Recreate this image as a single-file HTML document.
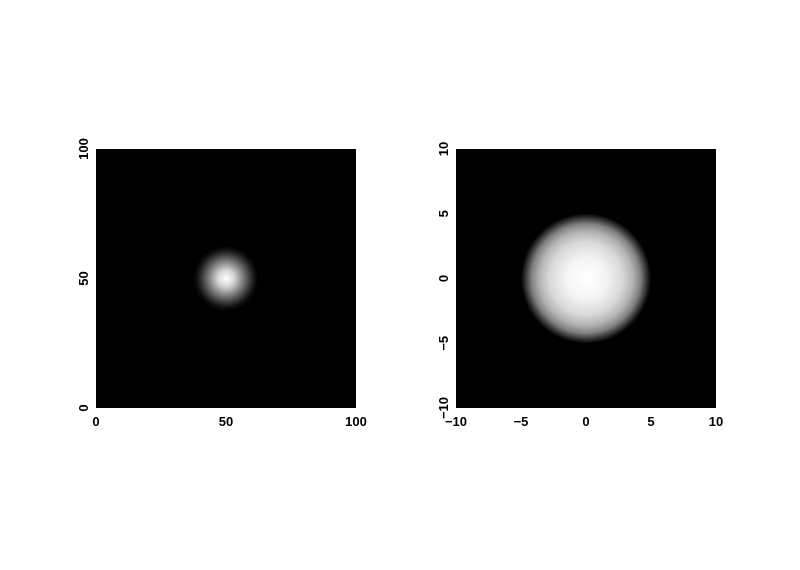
<!DOCTYPE html>
<html><head><meta charset="utf-8"><style>
body{margin:0;background:#fff;width:800px;height:565px;overflow:hidden}
text{font-family:"Liberation Sans",sans-serif;font-weight:bold;font-size:13px;fill:#000}
</style></head><body>
<svg id="chart" width="800" height="565" xmlns="http://www.w3.org/2000/svg">
<defs id="defs"></defs>
</svg>
<script>
// Left panel data
const leftXTicks = [0, 50, 100];
const leftYTicks = [0, 50, 100];
const leftCenter = [50, 50];
const leftRadii = [0, 3, 6, 9, 11, 12.5];          // data units
const leftIntensity = [1, 0.85, 0.55, 0.25, 0.07, 0];
// Right panel data
const rightXTicks = [-10, -5, 0, 5, 10];
const rightYTicks = [-10, -5, 0, 5, 10];
const rightCenter = [0, 0];
const rightRadii = [0, 1.5, 2.8, 3.6, 4.2, 4.7, 5.0];
const rightIntensity = [1, 0.96, 0.85, 0.7, 0.5, 0.18, 0];

const svg = document.getElementById('chart');
const defs = document.getElementById('defs');
const NS = 'http://www.w3.org/2000/svg';
function mk(t, a){const e=document.createElementNS(NS,t);for(const k in a)e.setAttribute(k,a[k]);return e;}

function panel(name, box, dom, xt, yt, center, radii, inten){
  const [x0,y0,x1,y1]=box, [d0,d1]=dom;
  const sx=v=>x0+(v-d0)/(d1-d0)*(x1-x0);
  const sy=v=>y1-(v-d0)/(d1-d0)*(y1-y0);
  const g=mk('g',{});
  
  
  svg.appendChild(g);
  const bg=mk('rect',{x:x0,y:y0,width:x1-x0,height:y1-y0,fill:'#000'});
  
  
  g.appendChild(bg);
  const rmax=radii[radii.length-1];
  const rpx=(sx(rmax)-sx(0));
  const grad=mk('radialGradient',{id:name+'-grad',cx:'50%',cy:'50%',r:'50%'});
  radii.forEach((r,i)=>{
    const c=Math.round(255*inten[i]);
    grad.appendChild(mk('stop',{offset:(r/rmax),'stop-color':`rgb(${c},${c},${c})`}));
  });
  defs.appendChild(grad);
  const blob=mk('circle',{cx:sx(center[0]),cy:sy(center[1]),r:rpx,fill:`url(#${name}-grad)`});
  
  
  g.appendChild(blob);
  xt.forEach(v=>{
    const t=mk('text',{x:sx(v),y:y1+18,'text-anchor':'middle'});
    t.textContent=v<0?'\u2212'+(-v):v;
    
    
    g.appendChild(t);
  });
  yt.forEach(v=>{
    const X=x0-8, Y=sy(v);
    const t=mk('text',{x:X,y:Y,'text-anchor':'middle',transform:`rotate(-90 ${X} ${Y})`});
    t.textContent=v<0?'\u2212'+(-v):v;
    
    
    g.appendChild(t);
  });
}
panel('left',[96,149,356,408],[0,100],leftXTicks,leftYTicks,leftCenter,leftRadii,leftIntensity);
panel('right',[456,149,716,408],[-10,10],rightXTicks,rightYTicks,rightCenter,rightRadii,rightIntensity);
</script>
</body></html>
